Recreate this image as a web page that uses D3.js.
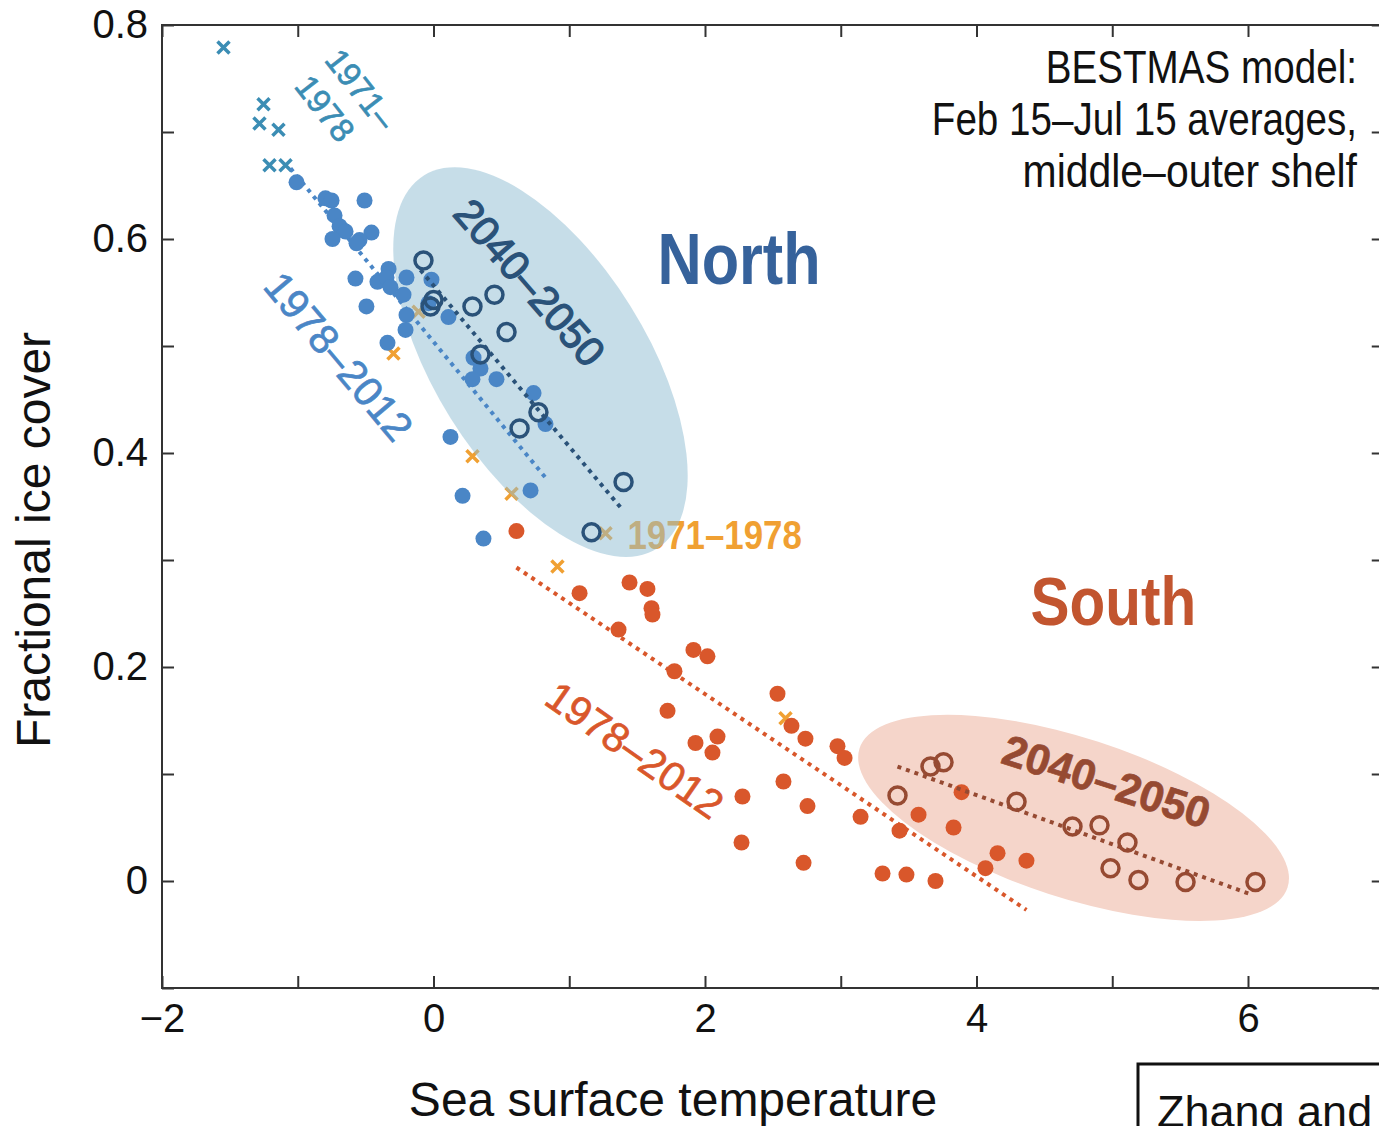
<!DOCTYPE html>
<html>
<head>
<meta charset="utf-8">
<script src="https://cdn.jsdelivr.net/npm/d3@7"></script>
<style>
body { margin: 0; background: #fff; }
svg { display: block; }
text { font-family: "Liberation Sans", Arial, sans-serif; }
</style>
</head>
<body>
<svg id="chart" width="1379" height="1126"></svg>
<script>
// sea surface temperature vs fractional ice cover, [temp, ice]
var northEarly = [[-1.547, 0.779], [-1.252, 0.726], [-1.282, 0.708], [-1.142, 0.702],
    [-1.208, 0.669], [-1.090, 0.669], [-0.670, 0.608]];
var northRecent = [[-1.009, 0.653], [-0.796, 0.638], [-0.751, 0.636], [-0.508, 0.636],
    [-0.729, 0.622], [-0.692, 0.612], [-0.648, 0.607], [-0.457, 0.606], [-0.744, 0.600],
    [-0.545, 0.599], [-0.567, 0.596], [-0.331, 0.572], [-0.575, 0.563], [-0.413, 0.560],
    [-0.346, 0.564], [-0.317, 0.555], [-0.199, 0.564], [-0.221, 0.548], [-0.494, 0.537],
    [-0.199, 0.529], [-0.206, 0.515], [-0.339, 0.503], [-0.015, 0.562], [0.110, 0.527],
    [-0.037, 0.540], [0.295, 0.489], [0.346, 0.479], [0.287, 0.469], [0.464, 0.469],
    [0.737, 0.456], [0.825, 0.427], [0.125, 0.415], [0.214, 0.360], [0.715, 0.365],
    [0.368, 0.320]];
var northFuture = [[-0.074, 0.580], [-0.022, 0.537], [0.000, 0.543], [0.287, 0.537],
    [0.449, 0.548], [0.538, 0.513], [0.346, 0.492], [0.773, 0.438], [0.634, 0.423],
    [1.400, 0.373], [1.164, 0.326]];
var southEarly = [[1.267, 0.325], [0.913, 0.294], [0.575, 0.362], [0.287, 0.397],
    [-0.110, 0.532], [-0.295, 0.493], [2.593, 0.152]];
var southRecent = [[0.611, 0.327], [1.076, 0.269], [1.444, 0.279], [1.576, 0.273],
    [1.606, 0.255], [1.613, 0.249], [1.363, 0.235], [1.915, 0.216], [2.018, 0.210],
    [1.775, 0.196], [2.534, 0.175], [1.724, 0.159], [2.637, 0.145], [2.740, 0.133],
    [1.930, 0.129], [2.092, 0.135], [2.055, 0.120], [2.976, 0.126], [3.028, 0.115],
    [2.578, 0.093], [2.276, 0.079], [2.755, 0.070], [3.146, 0.060], [3.573, 0.062],
    [3.433, 0.047], [3.831, 0.050], [3.890, 0.083], [2.269, 0.036], [2.726, 0.017],
    [3.308, 0.007], [3.484, 0.006], [3.698, 0.000], [4.155, 0.026], [4.368, 0.019],
    [4.066, 0.012]];
var southFuture = [[3.418, 0.080], [3.661, 0.107], [3.757, 0.111], [4.295, 0.074],
    [4.707, 0.051], [4.906, 0.052], [5.112, 0.036], [4.987, 0.012], [5.193, 0.001],
    [5.540, -0.001], [6.055, -0.001]];

// fitted trend lines, [start, end]
var northRecentFit = [[-1.053, 0.666], [0.825, 0.377]];
var northFutureFit = [[-0.096, 0.571], [1.392, 0.347]];
var southRecentFit = [[0.611, 0.293], [4.368, -0.027]];
var southFutureFit = [[3.418, 0.107], [6.033, -0.013]];

var xTicks = [-2, -1, 0, 1, 2, 3, 4, 5, 6, 7];
var xTickLabels = [-2, 0, 2, 4, 6];
var yTicks = [-0.1, 0, 0.1, 0.2, 0.3, 0.4, 0.5, 0.6, 0.7, 0.8];
var yTickLabels = [0, 0.2, 0.4, 0.6, 0.8];

var svg = d3.select('#chart');
var x = d3.scaleLinear().domain([-2, 7]).range([162, 1383.75]);
var y = d3.scaleLinear().domain([-0.1, 0.8]).range([988, 25]);

var col = {
    teal: '#3b8db4', blue: '#4a86c6', navy: '#2a5279', northTxt: '#36629b',
    orange: '#f0a032', red: '#d9572b', brown: '#964a32', southTxt: '#c2552f'
};

function has(list, v) {
    return list.some(function (d) { return Math.abs(d - v) < 1e-9; });
}

// ellipses (south first, below everything)
function blob(cx, cy, rx, ry, ang, fill, op) {
    svg.append('ellipse')
        .attr('transform', 'translate(' + x(cx) + ',' + y(cy) + ') rotate(' + ang + ')')
        .attr('rx', rx).attr('ry', ry)
        .attr('fill', fill).attr('opacity', op);
}
blob(4.715, 0.059, 225, 80, 18, '#f5d5ca', 1);

function crosses(data, color) {
    svg.append('g').selectAll('path').data(data).enter().append('path')
        .attr('transform', function (d) { return 'translate(' + x(d[0]) + ',' + y(d[1]) + ')'; })
        .attr('d', 'M-6,-6L6,6M-6,6L6,-6')
        .attr('stroke', color).attr('stroke-width', 3.5).attr('fill', 'none');
}
function dots(data, color) {
    svg.append('g').selectAll('circle').data(data).enter().append('circle')
        .attr('cx', function (d) { return x(d[0]); })
        .attr('cy', function (d) { return y(d[1]); })
        .attr('r', 8).attr('fill', color);
}
function rings(data, color) {
    svg.append('g').selectAll('circle').data(data).enter().append('circle')
        .attr('cx', function (d) { return x(d[0]); })
        .attr('cy', function (d) { return y(d[1]); })
        .attr('r', 8.5).attr('fill', 'none')
        .attr('stroke', color).attr('stroke-width', 3.5);
}
function fit(data, color) {
    svg.append('path')
        .attr('d', d3.line().x(function (d) { return x(d[0]); }).y(function (d) { return y(d[1]); })(data))
        .attr('stroke', color).attr('stroke-width', 4)
        .attr('stroke-dasharray', '4 5').attr('fill', 'none');
}
// condensed text: squeeze horizontally instead of relying on a narrow font
function squeezed(px, py, sx, txt, size, color, anchor, weight) {
    svg.append('text')
        .attr('transform', 'translate(' + px + ',' + py + ') scale(' + sx + ',1)')
        .attr('text-anchor', anchor || 'start')
        .attr('font-size', size).attr('font-weight', weight || 'normal')
        .attr('fill', color).text(txt);
}

// orange 1971-1978 crosses and label sit under the north ellipse
crosses(southEarly, col.orange);
squeezed(x(1.429), y(0.310), 0.85, '1971–1978', 41, col.orange, 'start', 'bold');

blob(0.788, 0.485, 220, 106, 58, '#8dbcd2', 0.5);

// south
fit(southRecentFit, col.red);
dots(southRecent, col.red);
fit(southFutureFit, col.brown);
rings(southFuture, col.brown);

// north
crosses(northEarly, col.teal);
fit(northRecentFit, col.blue);
dots(northRecent, col.blue);
fit(northFutureFit, col.navy);
rings(northFuture, col.navy);

// rotated labels
function rotLabel(t, f, ang, txt, color, size, opts) {
    opts = opts || {};
    svg.append('text')
        .attr('transform', 'translate(' + x(t) + ',' + y(f) + ') rotate(' + ang + ')')
        .attr('text-anchor', 'middle').attr('dominant-baseline', 'central')
        .attr('font-family', opts.family || '"DejaVu Sans", sans-serif')
        .attr('font-weight', opts.weight || 'normal')
        .attr('stroke', color).attr('stroke-width', opts.sw || 0.7)
        .attr('font-size', size).attr('fill', color).text(txt);
}
rotLabel(-0.535, 0.740, 52, '1971–', col.teal, 33);
rotLabel(-0.800, 0.722, 52, '1978', col.teal, 33);
rotLabel(-0.700, 0.490, 50, '1978–2012', col.blue, 41);
rotLabel(0.707, 0.559, 49, '2040–2050', col.navy, 41, {sw: 1.3});
rotLabel(1.481, 0.122, 35, '1978–2012', col.red, 41);
rotLabel(4.958, 0.093, 18, '2040–2050', col.brown, 43,
    {family: '"Liberation Sans", Arial, sans-serif', weight: 'bold', sw: 0});

squeezed(x(1.650), y(0.558), 0.85, 'North', 72, col.northTxt, 'start', 'bold');
squeezed(x(4.398), y(0.239), 0.86, 'South', 68, col.southTxt, 'start', 'bold');

// note, top right
var note = [['BESTMAS model:', 0.84], ['Feb 15–Jul 15 averages,', 0.84], ['middle–outer shelf', 0.89]];
note.forEach(function (n, i) {
    squeezed(1357, 83 + i * 52, n[1], n[0], 46, '#111', 'end');
});

// axes: inward ticks on all sides
var fmt = d3.format('');
function styleAxis(g) {
    g.select('.domain').remove();
    g.selectAll('.tick line').attr('stroke', '#333').attr('stroke-width', 2);
    g.selectAll('.tick text').attr('fill', '#111')
        .attr('font-family', '"Liberation Sans", Arial, sans-serif').attr('font-size', 40);
}
svg.append('g').attr('transform', 'translate(0,' + y(-0.1) + ')')
    .call(d3.axisBottom(x).tickValues(xTicks).tickSizeInner(-12).tickSizeOuter(0).tickPadding(16)
        .tickFormat(function (d) { return has(xTickLabels, d) ? fmt(d) : ''; }))
    .call(styleAxis);
svg.append('g').attr('transform', 'translate(0,' + y(0.8) + ')')
    .call(d3.axisTop(x).tickValues(xTicks).tickSizeInner(-12).tickSizeOuter(0).tickFormat(''))
    .call(styleAxis);
svg.append('g').attr('transform', 'translate(' + x(-2) + ',0)')
    .call(d3.axisLeft(y).tickValues(yTicks).tickSizeInner(-12).tickSizeOuter(0).tickPadding(14)
        .tickFormat(function (d) { return has(yTickLabels, d) ? fmt(d) : ''; }))
    .call(styleAxis);
svg.append('g').attr('transform', 'translate(' + x(7) + ',0)')
    .call(d3.axisRight(y).tickValues(yTicks).tickSizeInner(-12).tickSizeOuter(0).tickFormat(''))
    .call(styleAxis);

svg.append('rect')
    .attr('x', x(-2)).attr('y', y(0.8))
    .attr('width', x(7) - x(-2)).attr('height', y(-0.1) - y(0.8))
    .attr('fill', 'none').attr('stroke', '#333').attr('stroke-width', 2);

// axis titles
svg.append('text')
    .attr('transform', 'translate(50,540) rotate(-90)')
    .attr('text-anchor', 'middle').attr('font-size', 48).attr('fill', '#111')
    .text('Fractional ice cover');
svg.append('text')
    .attr('x', 673).attr('y', 1116)
    .attr('text-anchor', 'middle').attr('font-size', 48).attr('fill', '#111')
    .text('Sea surface temperature');

// source box, cut by the page edge as in the original
svg.append('rect')
    .attr('x', 1138).attr('y', 1064).attr('width', 320).attr('height', 120)
    .attr('fill', '#fff').attr('stroke', '#111').attr('stroke-width', 3);
svg.append('text')
    .attr('x', 1157).attr('y', 1127).attr('font-size', 45).attr('fill', '#111')
    .text('Zhang and');
</script>
</body>
</html>
